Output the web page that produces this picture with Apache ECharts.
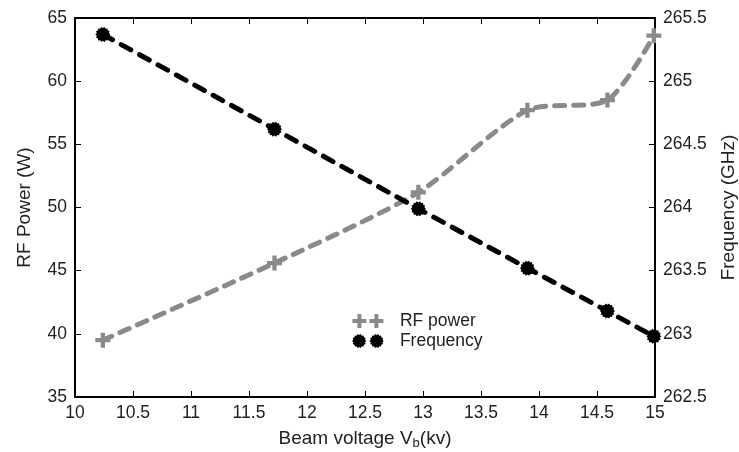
<!DOCTYPE html>
<html>
<head>
<meta charset="utf-8">
<script src="https://cdn.jsdelivr.net/npm/echarts@6/dist/echarts.min.js"></script>
<style>html,body{margin:0;padding:0;background:#fff}#c{width:739px;height:452px}</style>
</head>
<body>
<div id="c"></div>
<script>
// Data
const voltage = [10.24, 11.72, 12.96, 13.9, 14.59, 14.99];
const rfPower = [39.5, 45.6, 51.2, 57.7, 58.5, 63.6];
const frequency = [265.37, 264.62, 263.99, 263.52, 263.18, 262.98];
const xTicks = { min: 10, max: 15, interval: 0.5 };
const leftTicks = { min: 35, max: 65, interval: 5 };
const rightTicks = { min: 262.5, max: 265.5, interval: 0.5 };

// symbol shapes
const plusPath = 'M5,0H9V5H14V9H9V14H5V9H0V5H5Z';
function starPath(cx, cy, ro, ri, n) {
  let d = '';
  for (let i = 0; i < 2 * n; i++) {
    const r = i % 2 ? ri : ro;
    const a = Math.PI * i / n;
    d += (i ? 'L' : 'M') + (cx + r * Math.cos(a)).toFixed(2) + ',' + (cy + r * Math.sin(a)).toFixed(2);
  }
  return d + 'Z';
}
const star = starPath(7, 7, 7, 5.8, 14);
const plusPair = 'path://' + plusPath + ' M22,0H26V5H31V9H26V14H22V9H17V5H22Z';
const starPair = 'path://' + star + ' ' + starPath(24, 7, 7, 5.8, 14);

const font = 'Liberation Sans, Arial, sans-serif';
const tickFont = 17.5;
const nameFont = 19;
const chart = echarts.init(document.getElementById('c'));
chart.setOption({
  animation: false,
  backgroundColor: '#fff',
  textStyle: { fontFamily: font },
  grid: { left: 75, right: 84, top: 18, bottom: 55, containLabel: false, outerBoundsMode: 'none' },
  legend: {
    left: 347, top: 307, orient: 'vertical', itemGap: 2,
    itemWidth: 36, itemHeight: 14,
    textStyle: { fontSize: 17.5, color: '#222', fontFamily: font, padding: [0, 0, 0, 9] },
    data: [
      { name: 'RF power', icon: plusPair, itemStyle: { color: '#8a8a8a' } },
      { name: 'Frequency', icon: starPair, itemStyle: { color: '#000' } }
    ]
  },
  xAxis: [{
    type: 'value', min: xTicks.min, max: xTicks.max, interval: xTicks.interval,
    name: '{a|Beam voltage V}{s|b}{a|(kv)}', nameLocation: 'middle', nameGap: 30,
    nameTextStyle: { rich: { a: { fontSize: nameFont, color: '#222', fontFamily: font }, s: { fontSize: 13, color: '#222', fontFamily: font, padding: [10, 0, 0, 0] } } },
    axisLine: { lineStyle: { color: '#000', width: 2 } },
    axisTick: { inside: true, length: 6, lineStyle: { color: '#000', width: 1 } },
    axisLabel: { fontSize: tickFont, color: '#222', margin: 7 },
    splitLine: { show: false }
  }, {
    type: 'value', position: 'top', min: xTicks.min, max: xTicks.max, interval: xTicks.interval,
    axisLine: { show: true, lineStyle: { color: '#000', width: 2 } },
    axisTick: { inside: true, length: 6, lineStyle: { color: '#000', width: 1 } },
    axisLabel: { show: false }, splitLine: { show: false }
  }],
  yAxis: [{
    type: 'value', min: leftTicks.min, max: leftTicks.max, interval: leftTicks.interval,
    name: 'RF Power (W)', nameLocation: 'middle', nameGap: 41,
    nameTextStyle: { fontSize: nameFont, color: '#222' },
    axisLine: { show: true, lineStyle: { color: '#000', width: 2 } },
    axisTick: { show: true, inside: true, length: 6, lineStyle: { color: '#000', width: 1 } },
    axisLabel: { fontSize: tickFont, color: '#222', margin: 8 },
    splitLine: { show: false }
  }, {
    type: 'value', position: 'right', min: rightTicks.min, max: rightTicks.max, interval: rightTicks.interval,
    name: 'Frequency (GHz)', nameLocation: 'middle', nameGap: 64, nameRotate: 90,
    nameTextStyle: { fontSize: nameFont, color: '#222' },
    axisLine: { show: true, lineStyle: { color: '#000', width: 2 } },
    axisTick: { show: true, inside: true, length: 6, lineStyle: { color: '#000', width: 1 } },
    axisLabel: { fontSize: tickFont, color: '#222', margin: 8 },
    splitLine: { show: false }
  }],
  series: [{
    name: 'RF power', type: 'line', xAxisIndex: 0, yAxisIndex: 0,
    data: voltage.map((v, i) => [v, rfPower[i]]),
    smooth: 0.25,
    symbol: 'path://' + plusPath, symbolSize: 15,
    itemStyle: { color: '#8a8a8a' },
    lineStyle: { color: '#8a8a8a', width: 5, type: [10, 9], cap: 'round' },
    clip: false, z: 2
  }, {
    name: 'Frequency', type: 'line', xAxisIndex: 0, yAxisIndex: 1,
    data: voltage.map((v, i) => [v, frequency[i]]),
    symbol: 'path://' + star, symbolSize: 15,
    itemStyle: { color: '#000' },
    lineStyle: { color: '#000', width: 5, type: [11, 10], cap: 'round' },
    clip: false, z: 3
  }]
});
</script>
</body>
</html>
